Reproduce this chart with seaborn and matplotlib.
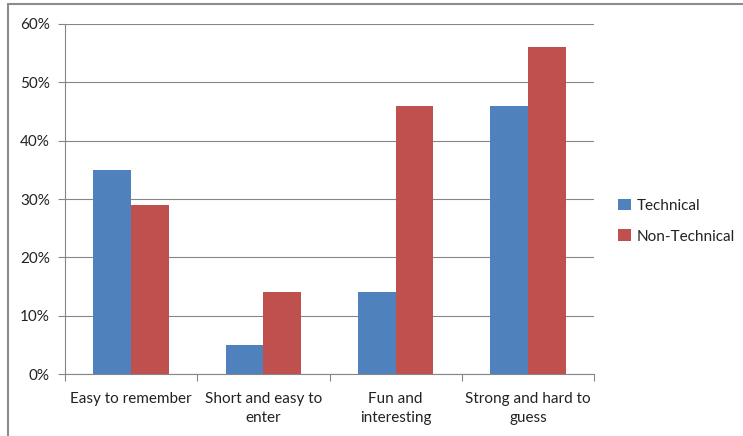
import matplotlib
matplotlib.use("Agg")
import matplotlib.pyplot as plt
from matplotlib.lines import Line2D
from matplotlib.ticker import FuncFormatter, FixedLocator
import seaborn as sns
import pandas as pd

categories = ["Easy to remember", "Short and easy to\nenter", "Fun and\ninteresting", "Strong and hard to\nguess"]
technical = [35, 5, 14, 46]
non_technical = [29, 14, 46, 56]
series_names = ["Technical", "Non-Technical"]
colors = ["#4F81BD", "#C0504D"]

df = pd.DataFrame({
    "category": categories * 2,
    "value": technical + non_technical,
    "group": [series_names[0]] * 4 + [series_names[1]] * 4,
})

sns.set_theme(style="white")
plt.rcParams["font.family"] = ["Lato", "DejaVu Sans"]

fig = plt.figure(figsize=(7.43, 4.36), dpi=100)
ax = fig.add_axes([0.0875, 0.142, 0.712, 0.803])

sns.barplot(data=df, x="category", y="value", hue="group", palette=colors,
            width=0.571, gap=0, saturation=1, linewidth=0, ax=ax, legend=True)

grid_c = "#868686"
fs = 11
ax.set_ylim(0, 60)
ax.set_xlim(-0.5, 3.5)
ax.set_yticks(range(0, 61, 10))
ax.yaxis.set_major_formatter(FuncFormatter(lambda v, p: f"{int(v)}%"))
ax.yaxis.grid(True, color=grid_c, linewidth=0.8)
ax.set_axisbelow(True)
ax.set_xlabel("")
ax.set_ylabel("")

for s in ["top", "right"]:
    ax.spines[s].set_visible(False)
for s in ["left", "bottom"]:
    ax.spines[s].set_color(grid_c)
    ax.spines[s].set_linewidth(0.8)

ax.tick_params(axis="y", which="major", length=5, color=grid_c, width=0.8,
               labelsize=fs, labelcolor="#222222", pad=6, left=True)
ax.tick_params(axis="x", which="major", length=0, labelsize=fs,
               labelcolor="#222222", pad=13)
ax.xaxis.set_minor_locator(FixedLocator([-0.5, 0.5, 1.5, 2.5, 3.5]))
ax.tick_params(axis="x", which="minor", length=5, color=grid_c, width=0.8, bottom=True)
for lbl in ax.get_xticklabels():
    lbl.set_multialignment("center")
    lbl.set_linespacing(1.45)

leg = ax.legend(loc="center left", bbox_to_anchor=(1.02, 0.437), frameon=False,
                fontsize=fs, handlelength=0.8, handleheight=0.8,
                handletextpad=0.4, labelspacing=1.1)
for t in leg.get_texts():
    t.set_color("#222222")

# outer chart frame (top and left edges)
fig.add_artist(Line2D([8 / 743, 8 / 743], [0, 1 - 4 / 436], transform=fig.transFigure,
                      color="#8c8c8c", linewidth=1.5))
fig.add_artist(Line2D([8 / 743, 1], [1 - 4 / 436, 1 - 4 / 436], transform=fig.transFigure,
                      color="#8c8c8c", linewidth=1.5))

fig.savefig("out.png", dpi=100)
